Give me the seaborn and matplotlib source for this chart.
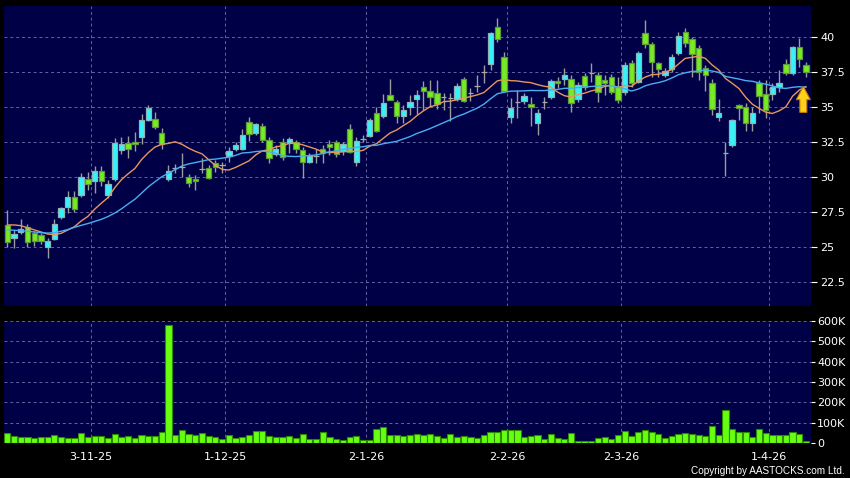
import numpy as np
import pandas as pd
import matplotlib
matplotlib.use("Agg")
import matplotlib.pyplot as plt
import seaborn as sns
from matplotlib.ticker import FixedLocator, FuncFormatter

# ---------------- data ----------------
opens = [26.55, 25.6, 26.07, 26.43, 25.95, 25.8, 24.95, 25.53, 27.1, 27.86,
         28.57, 28.67, 29.81, 29.72, 30.43, 28.7, 29.81, 31.9, 32.38, 32.5,
         32.86, 34.05, 34.1, 33.14, 29.8, 30.65, 30.67, 30.0, 29.8, 30.53,
         30.6, 30.95, 30.84, 31.48, 31.95, 31.98, 33.88, 33.14, 33.62, 32.62,
         31.62, 32.5, 32.38, 32.5, 31.9, 31.02, 31.45, 32.0, 32.33, 32.5,
         31.83, 33.41, 31.02, 32.67, 32.9, 34.57, 34.33, 35.8, 35.31, 34.36,
         35.0, 35.52, 36.38, 36.1, 36.0, 35.67, 35.6, 35.52, 36.95, 35.95,
         36.48, 37.5, 38.05, 40.67, 38.57, 34.29, 35.36, 35.4, 35.17, 33.86,
         35.33, 35.71, 36.86, 37.0, 37.0, 35.52, 37.19, 37.38, 37.26, 36.88,
         37.14, 36.37, 36.04, 38.15, 36.79, 40.24, 39.45, 38.1, 37.26, 37.67,
         38.81, 40.31, 39.81, 39.17, 37.74, 36.67, 34.29, 31.67, 32.26, 35.1,
         35.0, 33.81, 36.71, 35.88, 35.88, 36.38, 38.02, 37.38, 39.29, 37.98]
highs = [27.6, 26.2, 27.0, 26.6, 26.1, 25.95, 25.6, 26.95, 27.85, 29.0,
         29.0, 30.24, 30.3, 30.76, 30.76, 29.76, 32.74, 32.86, 32.9, 33.2,
         34.5, 35.1, 34.6, 33.5, 30.8, 30.9, 31.7, 30.2, 30.1, 31.3,
         30.8, 31.2, 31.07, 32.14, 32.5, 33.38, 34.29, 33.86, 33.8, 32.86,
         32.26, 32.74, 32.86, 32.62, 32.14, 31.67, 31.95, 32.26, 32.62, 32.62,
         32.5, 33.76, 32.81, 32.98, 34.2, 35.0, 35.9, 37.0, 35.5, 35.1,
         35.84, 36.2, 36.83, 36.9, 36.9, 36.0, 35.95, 36.67, 37.1, 36.3,
         37.26, 37.98, 40.36, 41.31, 38.93, 35.6, 36.2, 36.0, 35.7, 34.8,
         35.7, 37.0, 37.1, 37.79, 37.26, 36.79, 37.4, 38.1, 37.5, 37.26,
         37.3, 37.14, 38.22, 38.33, 38.98, 41.19, 39.64, 38.2, 37.74, 38.76,
         40.36, 40.6, 40.0, 39.4, 37.98, 36.95, 35.52, 32.5, 34.1, 35.19,
         35.24, 35.0, 36.9, 36.9, 36.67, 37.62, 38.38, 39.33, 39.88, 38.2]
lows = [25.0, 24.9, 25.9, 25.0, 25.05, 25.2, 24.2, 25.45, 26.95, 27.4,
        27.5, 28.57, 29.05, 28.8, 29.3, 28.5, 29.72, 31.6, 31.3, 31.8,
        32.3, 33.95, 33.4, 32.0, 29.7, 30.24, 29.95, 29.25, 29.05, 30.24,
        29.8, 30.36, 30.24, 31.07, 31.8, 31.9, 32.57, 32.98, 32.5, 31.0,
        31.45, 31.19, 31.67, 31.67, 29.88, 30.95, 30.95, 30.95, 31.55, 31.43,
        31.55, 31.67, 30.79, 32.5, 32.8, 33.2, 34.2, 35.45, 33.8, 33.8,
        34.4, 34.5, 34.76, 34.95, 34.8, 34.76, 34.0, 35.43, 35.36, 35.4,
        36.07, 36.67, 37.62, 39.65, 36.07, 33.86, 34.17, 35.2, 33.6, 32.98,
        34.8, 35.55, 36.3, 36.55, 34.6, 35.31, 36.2, 36.79, 35.31, 35.83,
        35.9, 35.24, 35.83, 36.43, 36.67, 39.2, 37.14, 37.14, 37.14, 37.5,
        38.69, 39.29, 37.14, 36.9, 36.14, 34.4, 34.0, 30.05, 32.14, 34.05,
        33.29, 33.29, 34.52, 34.17, 35.48, 36.07, 37.26, 37.26, 37.86, 37.14]
closes = [25.3, 25.88, 26.24, 25.31, 25.43, 25.4, 25.43, 26.6, 27.74, 28.57,
          27.67, 29.95, 29.5, 30.43, 29.72, 29.5, 32.43, 32.33, 31.95, 32.35,
          34.05, 34.88, 33.53, 32.34, 30.4, 30.65, 30.67, 29.53, 29.7, 30.53,
          29.9, 30.67, 30.84, 31.84, 32.26, 32.98, 33.03, 33.76, 32.62, 31.31,
          31.98, 31.38, 32.67, 31.98, 31.02, 31.48, 31.45, 31.72, 32.12, 31.62,
          32.31, 31.79, 32.57, 32.67, 34.05, 33.24, 35.24, 35.5, 34.33, 34.76,
          35.31, 35.81, 36.1, 35.67, 35.17, 35.67, 35.6, 36.5, 35.43, 35.95,
          36.48, 37.5, 40.29, 39.81, 36.14, 34.88, 35.36, 35.79, 34.95, 34.52,
          35.33, 36.86, 36.72, 37.26, 35.24, 36.55, 36.43, 37.38, 36.02, 36.7,
          36.05, 35.48, 37.99, 36.67, 38.86, 39.45, 38.2, 37.67, 37.55, 38.52,
          40.05, 39.52, 38.76, 37.5, 37.26, 34.81, 34.52, 31.67, 34.05, 34.88,
          33.81, 34.52, 35.76, 34.76, 36.38, 36.67, 37.38, 39.29, 38.38, 37.5]
volumes_k = [52, 36, 30, 30, 28, 33, 33, 41, 31, 25,
             26, 50, 30, 38, 34, 25, 46, 33, 36, 26,
             39, 36, 36, 57, 578, 43, 65, 44, 43, 52,
             36, 30, 21, 41, 26, 31, 39, 60, 59, 38,
             30, 30, 38, 28, 46, 21, 21, 55, 30, 23,
             18, 33, 34, 16, 18, 70, 78, 41, 39, 36,
             41, 44, 39, 46, 36, 26, 44, 31, 34, 30,
             28, 41, 57, 55, 65, 65, 65, 31, 36, 43,
             23, 44, 28, 23, 49, 11, 13, 13, 26, 30,
             21, 39, 59, 36, 54, 64, 57, 47, 26, 34,
             46, 51, 44, 39, 38, 87, 43, 161, 70, 54,
             54, 33, 68, 52, 41, 41, 43, 54, 46, 11]
# moving-average values before the window is filled
ma10_head = [26.55, 26.55, 26.5, 26.35, 26.2, 26.05, 25.9, 25.86, 25.95]
ma20_head = [26.2, 26.17, 26.14, 26.1, 26.05, 26.0, 25.97, 26.0, 26.1, 26.22,
             26.38, 26.52, 26.65, 26.8, 26.95, 27.15, 27.4, 27.7, 28.05]
date_labels = ["3-11-25", "1-12-25", "2-1-26", "2-2-26", "2-3-26", "1-4-26"]
date_index = [13, 33, 54, 75, 92, 114]
price_ticks = [22.5, 25, 27.5, 30, 32.5, 35, 37.5, 40]
volume_ticks_k = [0, 100, 200, 300, 400, 500, 600]

# ---------------- style ----------------
sns.set_style("dark")
plt.rcParams["font.family"] = ["DejaVu Sans"]

NAVY = "#000046"
GRID = "#6464a0"
CYAN = "#33f4fa"
GREEN = "#78ec22"
GRAY = "#a8a8a8"

n = len(closes)
idx = np.arange(n)
df = pd.DataFrame({"i": idx, "open": opens, "high": highs, "low": lows,
                   "close": closes, "vol": np.array(volumes_k) * 1000})
ma10 = df["close"].rolling(10).mean()
ma10.iloc[:9] = ma10_head
ma20 = df["close"].rolling(20).mean()
ma20.iloc[:19] = ma20_head
df["ma10"] = ma10
df["ma20"] = ma20

W, H = 850, 478
fig = plt.figure(figsize=(W / 100, H / 100), dpi=100, facecolor="black")
ax = fig.add_axes([4 / W, 1 - 306 / H, 806.7 / W, 300 / H])
axv = fig.add_axes([4 / W, 1 - 443.3 / H, 806.7 / W, 122.8 / H])

for a in (ax, axv):
    a.set_facecolor(NAVY)
    for s in a.spines.values():
        s.set_visible(False)

# ---------------- candles ----------------
up = df["close"] > df["open"]
dn = df["close"] < df["open"]
body_col = np.where(up, CYAN, np.where(dn, GREEN, GRAY))
edge_col = np.where(up, "#8fb4b8", np.where(dn, "#5f9a3a", GRAY))
bottom = np.minimum(df["open"], df["close"])
height = np.maximum((df["close"] - df["open"]).abs(), 0.0001)

ax.vlines(df["i"], df["low"], df["high"], color="#9c9c9c", lw=1.0, zorder=2)
ax.bar(df["i"], height, bottom=bottom, width=0.8, color=body_col,
       edgecolor=edge_col, linewidth=0.9, zorder=3)

sns.lineplot(data=df, x="i", y="ma10", ax=ax, color="#e8965e", lw=1.0,
             zorder=4)
sns.lineplot(data=df, x="i", y="ma20", ax=ax, color="#48aef0", lw=1.0,
             zorder=4)

# arrow marker at the end of the fast average
ax.annotate("", xy=(idx[-1] - 0.4, df["ma10"].iloc[-1]),
            xytext=(idx[-1] - 0.4, df["ma10"].iloc[-1] - 1.85),
            arrowprops=dict(facecolor="#ffd21a", edgecolor="#c87a00",
                            width=5, headwidth=10, headlength=9.5,
                            shrink=0, lw=0.8),
            zorder=6)

# ---------------- volume ----------------
sns.barplot(data=df, x="i", y="vol", ax=axv, native_scale=True, width=0.92,
            color="#66ff11", edgecolor="#2c8a00", linewidth=0.8,
            saturation=1, zorder=3)

# ---------------- axes ----------------
xpos = [d - 0.5 for d in date_index]
for a in (ax, axv):
    a.set_xlim(-0.5, n - 0.3)
    a.xaxis.set_major_locator(FixedLocator(xpos))
    a.grid(True, color=GRID, ls=(0, (3, 3)), lw=0.7, zorder=0)
    a.set_xlabel("")
    a.set_ylabel("")
    a.set_axisbelow(True)

ax.set_ylim(20.76, 42.19)
ax.yaxis.set_major_locator(FixedLocator(price_ticks))
ax.yaxis.set_major_formatter(FuncFormatter(lambda v, p: f"{v:g}"))
ax.yaxis.tick_right()
ax.tick_params(axis="y", colors="white", labelsize=8, length=4, width=0.8,
               pad=3)
ax.tick_params(axis="x", length=0, labelbottom=False)

axv.set_ylim(0, 601000)
axv.yaxis.set_major_locator(FixedLocator([v * 1000 for v in volume_ticks_k]))
axv.yaxis.set_major_formatter(
    FuncFormatter(lambda v, p: "0" if v == 0 else f"{int(round(v / 1000))}K"))
axv.yaxis.tick_right()
axv.tick_params(axis="y", colors="white", labelsize=8, length=3, width=0.8,
                pad=1.5)
axv.set_xticklabels(date_labels)
axv.tick_params(axis="x", colors="white", labelsize=8, length=3, width=0.8,
                pad=3)

fig.text(845 / W, 1 - 476 / H, "Copyright by AASTOCKS.com Ltd.", ha="right",
         va="bottom", color="white", fontsize=7.2,
         family=["Liberation Sans", "DejaVu Sans"])

fig.savefig("out.png", dpi=100, facecolor="black")
